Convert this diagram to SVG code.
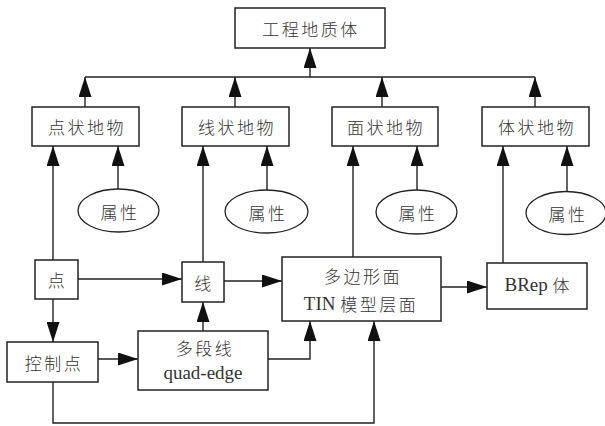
<svg xmlns="http://www.w3.org/2000/svg" width="605" height="426" viewBox="0 0 605 426">
  <style>
    .box { fill: #fff; stroke: #222; stroke-width: 1.5; }
    .ell { fill: #fff; stroke: #222; stroke-width: 1.3; }
    .wire { fill: none; stroke: #222; stroke-width: 1.4; }
    .arr { marker-end: url(#head); }
    text { fill: #333; text-anchor: middle; dominant-baseline: central; }
    .cn { font-family: "Noto Sans CJK SC", "Noto Sans", sans-serif; font-size: 17px; letter-spacing: 2.5px; font-weight: 300; }
    .mix { font-family: "Liberation Serif", "Noto Sans CJK SC", serif; font-size: 19px; }
  </style>
  <defs>
    <marker id="head" viewBox="0 0 20 13" refX="20" refY="6.5" markerWidth="20" markerHeight="13" markerUnits="userSpaceOnUse" orient="auto">
      <path d="M0,0 L20,6.5 L0,13 Z" fill="#111"/>
    </marker>
  </defs>

  <rect width="605" height="426" fill="#fff"/>

  <!-- connectors -->
  <g id="connectors">
    <path class="wire arr" d="M310,77 V48"/>
    <path class="wire" d="M85,77 H535"/>
    <path class="wire arr" d="M85,107 V77"/>
    <path class="wire arr" d="M235,107 V77"/>
    <path class="wire arr" d="M382,107 V77"/>
    <path class="wire arr" d="M535,107 V77"/>

    <path class="wire arr" d="M53,260 V146"/>
    <path class="wire arr" d="M118,189 V146"/>
    <path class="wire arr" d="M203,262 V146"/>
    <path class="wire arr" d="M267,190 V146"/>
    <path class="wire arr" d="M353,257 V146"/>
    <path class="wire arr" d="M417,190 V146"/>
    <path class="wire arr" d="M503,263 V146"/>
    <path class="wire arr" d="M567,192 V146"/>

    <path class="wire arr" d="M78,279 H182"/>
    <path class="wire arr" d="M224,281 H282"/>
    <path class="wire arr" d="M441,287 H487"/>
    <path class="wire arr" d="M53,299 V342"/>
    <path class="wire arr" d="M98,359 H138"/>
    <path class="wire arr" d="M203,331 V302"/>
    <path class="wire arr" d="M268,359 H310 V321"/>
    <path class="wire arr" d="M53,382 V423 H374 V321"/>
  </g>

  <!-- top level -->
  <g id="n-geobody">
    <rect class="box" x="235" y="8" width="150" height="40"/>
    <text class="cn" x="311" y="28">工程地质体</text>
  </g>

  <!-- feature classes -->
  <g id="n-point-feature">
    <rect class="box" x="32" y="107" width="107" height="39"/>
    <text class="cn" x="87" y="126.5">点状地物</text>
  </g>
  <g id="n-line-feature">
    <rect class="box" x="182" y="107" width="107" height="39"/>
    <text class="cn" x="237" y="126.5">线状地物</text>
  </g>
  <g id="n-surface-feature">
    <rect class="box" x="332" y="107" width="106" height="39"/>
    <text class="cn" x="386" y="126.5">面状地物</text>
  </g>
  <g id="n-volume-feature">
    <rect class="box" x="482" y="107" width="107" height="39"/>
    <text class="cn" x="537" y="126.5">体状地物</text>
  </g>

  <!-- attributes -->
  <g id="n-attr-1">
    <ellipse class="ell" cx="118.5" cy="210.5" rx="40.5" ry="21.5"/>
    <text class="cn" x="120" y="211">属性</text>
  </g>
  <g id="n-attr-2">
    <ellipse class="ell" cx="266.5" cy="211.5" rx="41.5" ry="21.5"/>
    <text class="cn" x="268" y="212">属性</text>
  </g>
  <g id="n-attr-3">
    <ellipse class="ell" cx="416.5" cy="212" rx="40.5" ry="22"/>
    <text class="cn" x="418" y="212.5">属性</text>
  </g>
  <g id="n-attr-4">
    <ellipse class="ell" cx="566" cy="213" rx="40" ry="21.5"/>
    <text class="cn" x="568" y="213.5">属性</text>
  </g>

  <!-- geometry primitives -->
  <g id="n-point">
    <rect class="box" x="35" y="260" width="43" height="39"/>
    <text class="cn" x="57.5" y="279.5">点</text>
  </g>
  <g id="n-line">
    <rect class="box" x="182" y="262" width="42" height="40"/>
    <text class="cn" x="204" y="282">线</text>
  </g>
  <g id="n-polygon">
    <rect class="box" x="282" y="257" width="159" height="64"/>
    <text class="cn" x="363" y="275">多边形面</text>
    <text class="mix" x="361" y="303">TIN <tspan style="font-family:'Noto Sans CJK SC',sans-serif;font-size:17px;letter-spacing:2.5px;font-weight:300">模型层面</tspan></text>
  </g>
  <g id="n-brep">
    <rect class="box" x="487" y="263" width="100" height="46"/>
    <text class="mix" x="537" y="284">BRep <tspan style="font-family:'Noto Sans CJK SC',sans-serif;font-size:17px;font-weight:300">体</tspan></text>
  </g>
  <g id="n-control-point">
    <rect class="box" x="7" y="342" width="91" height="40"/>
    <text class="cn" x="54" y="362">控制点</text>
  </g>
  <g id="n-polyline">
    <rect class="box" x="138" y="331" width="130" height="59"/>
    <text class="cn" x="205" y="347">多段线</text>
    <text class="mix" x="203" y="372">quad-edge</text>
  </g>
</svg>
